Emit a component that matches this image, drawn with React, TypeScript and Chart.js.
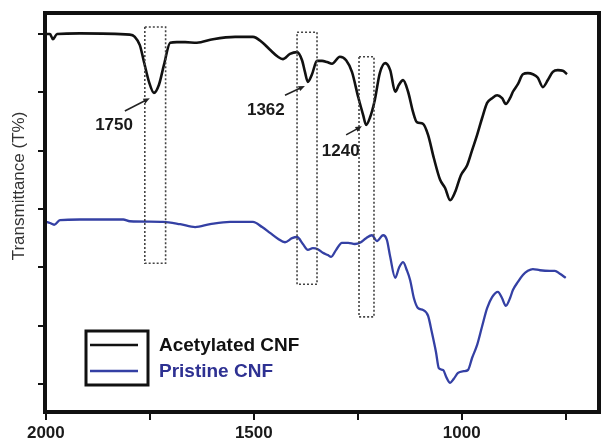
import React, { useEffect, useRef } from "react";
import Chart from "chart.js/auto";

// Wavenumber (cm-1) and transmittance (arbitrary units)
const acetylWn = [2000, 1990, 1983, 1973, 1918, 1798, 1786, 1774, 1764, 1752, 1740, 1728, 1716, 1701, 1685, 1665, 1637, 1598, 1545, 1502, 1480, 1461, 1442, 1430, 1413, 1396, 1384, 1377, 1370, 1360, 1348, 1336, 1324, 1312, 1293, 1278, 1264, 1249, 1237, 1230, 1221, 1209, 1197, 1184, 1172, 1160, 1151, 1141, 1129, 1117, 1108, 1093, 1081, 1067, 1052, 1040, 1028, 1016, 1002, 987, 975, 963, 951, 939, 927, 915, 903, 894, 884, 877, 865, 853, 841, 829, 817, 805, 793, 781, 769, 757, 747];
const acetylT = [6.0, 6.0, 5.91, 6.0, 6.01, 5.99, 5.95, 5.81, 5.52, 5.18, 4.99, 5.13, 5.47, 5.85, 5.86, 5.86, 5.85, 5.91, 5.95, 5.95, 5.86, 5.73, 5.61, 5.57, 5.66, 5.69, 5.55, 5.35, 5.18, 5.31, 5.54, 5.54, 5.52, 5.49, 5.61, 5.55, 5.35, 4.92, 4.61, 4.44, 4.56, 4.87, 5.33, 5.5, 5.38, 5.01, 5.13, 5.21, 5.01, 4.66, 4.49, 4.46, 4.27, 3.87, 3.5, 3.36, 3.15, 3.29, 3.58, 3.75, 4.01, 4.27, 4.56, 4.82, 4.9, 4.95, 4.9, 4.8, 4.9, 5.01, 5.14, 5.31, 5.33, 5.31, 5.25, 5.09, 5.21, 5.35, 5.38, 5.37, 5.31];

const pristineWn = [2000, 1990, 1980, 1966, 1918, 1814, 1798, 1718, 1677, 1641, 1605, 1557, 1502, 1480, 1461, 1442, 1425, 1408, 1396, 1382, 1370, 1358, 1346, 1334, 1322, 1314, 1302, 1288, 1273, 1257, 1245, 1230, 1216, 1204, 1189, 1180, 1172, 1160, 1151, 1141, 1132, 1124, 1115, 1105, 1093, 1081, 1072, 1062, 1055, 1045, 1036, 1028, 1019, 1009, 995, 985, 975, 963, 951, 939, 927, 913, 903, 894, 884, 877, 865, 853, 841, 829, 812, 788, 776, 764, 750];
const pristineT = [2.78, 2.76, 2.73, 2.81, 2.82, 2.82, 2.79, 2.78, 2.74, 2.69, 2.74, 2.78, 2.78, 2.69, 2.59, 2.49, 2.43, 2.5, 2.52, 2.4, 2.3, 2.33, 2.31, 2.25, 2.21, 2.18, 2.3, 2.42, 2.42, 2.4, 2.42, 2.5, 2.55, 2.45, 2.55, 2.47, 2.18, 1.82, 1.99, 2.09, 1.95, 1.78, 1.47, 1.3, 1.27, 1.17, 0.89, 0.55, 0.27, 0.24, 0.1, 0.02, 0.09, 0.19, 0.22, 0.24, 0.45, 0.67, 0.99, 1.3, 1.49, 1.58, 1.47, 1.34, 1.47, 1.61, 1.75, 1.87, 1.94, 1.97, 1.95, 1.94, 1.94, 1.89, 1.82];

const seriesLabels = ["Acetylated CNF", "Pristine CNF"];
const seriesColors = ["#111111", "#3440a4"];

const xTickValues = [2000, 1750, 1500, 1250, 1000, 750];
const xTickLabels = [2000, 1500, 1000];
const yTickValues = [0, 1, 2, 3, 4, 5, 6];
const yTitle = "Transmittance (T%)";

// Highlighted bands: [xFrom, xTo, yTop, yBottom]
const bandBoxes = [
  [1762, 1712, 6.12, 2.07],
  [1396, 1348, 6.03, 1.71],
  [1247, 1211, 5.61, 1.15],
];
// Peak labels: text, label position, arrow start, arrow end
const peakLabels = ["1750", "1362", "1240"];
const peakLabelPos = [[1836, 4.44], [1471, 4.7], [1291, 3.99]];
const peakArrowFrom = [[1810, 4.68], [1425, 4.95], [1278, 4.27]];
const peakArrowTo = [[1750, 4.9], [1377, 5.11], [1240, 4.42]];

const FONT = "'Liberation Sans', Arial, sans-serif";

const overlay = {
  id: "overlay",
  afterDatasetsDraw(chart: any) {
    const { ctx, chartArea, scales } = chart;
    const xs = scales.x;
    const ys = scales.y;
    ctx.save();

    // dotted band boxes
    ctx.setLineDash([2, 2]);
    ctx.lineWidth = 1.6;
    ctx.strokeStyle = "#444";
    bandBoxes.forEach(([x0, x1, yt, yb]) => {
      const px0 = xs.getPixelForValue(x0);
      const px1 = xs.getPixelForValue(x1);
      const pyt = ys.getPixelForValue(yt);
      const pyb = ys.getPixelForValue(yb);
      ctx.strokeRect(px0, pyt, px1 - px0, pyb - pyt);
    });
    ctx.setLineDash([]);

    // arrows
    ctx.strokeStyle = "#222";
    ctx.fillStyle = "#222";
    ctx.lineWidth = 1.5;
    peakArrowFrom.forEach((from, i) => {
      const to = peakArrowTo[i];
      const ax = xs.getPixelForValue(from[0]);
      const ay = ys.getPixelForValue(from[1]);
      const bx = xs.getPixelForValue(to[0]);
      const by = ys.getPixelForValue(to[1]);
      const ang = Math.atan2(by - ay, bx - ax);
      const hl = 7;
      ctx.beginPath();
      ctx.moveTo(ax, ay);
      ctx.lineTo(bx - Math.cos(ang) * hl * 0.8, by - Math.sin(ang) * hl * 0.8);
      ctx.stroke();
      ctx.beginPath();
      ctx.moveTo(bx, by);
      ctx.lineTo(bx - hl * Math.cos(ang - 0.4), by - hl * Math.sin(ang - 0.4));
      ctx.lineTo(bx - hl * Math.cos(ang + 0.4), by - hl * Math.sin(ang + 0.4));
      ctx.closePath();
      ctx.fill();
    });

    // peak labels
    ctx.font = `bold 17px ${FONT}`;
    ctx.textAlign = "center";
    ctx.textBaseline = "middle";
    ctx.fillStyle = "#1a1a1a";
    peakLabels.forEach((t, i) => {
      ctx.fillText(t, xs.getPixelForValue(peakLabelPos[i][0]), ys.getPixelForValue(peakLabelPos[i][1]));
    });

    // legend
    const lx = 86, ly = 331, lw = 62, lh = 54;
    ctx.lineWidth = 3;
    ctx.strokeStyle = "#111";
    ctx.strokeRect(lx, ly, lw, lh);
    ctx.font = `bold 19px ${FONT}`;
    ctx.textAlign = "left";
    seriesLabels.forEach((lab, i) => {
      const yy = 345 + i * 26;
      ctx.strokeStyle = seriesColors[i];
      ctx.lineWidth = 2.5;
      ctx.beginPath();
      ctx.moveTo(90, yy);
      ctx.lineTo(138, yy);
      ctx.stroke();
      ctx.fillStyle = i === 0 ? "#111" : "#2e3192";
      ctx.fillText(lab, 159, yy + 1);
    });

    // y title
    ctx.save();
    ctx.translate(19, 186);
    ctx.rotate(-Math.PI / 2);
    ctx.font = `17px ${FONT}`;
    ctx.fillStyle = "#333";
    ctx.textAlign = "center";
    ctx.fillText(yTitle, 0, 0);
    ctx.restore();

    // frame
    ctx.lineWidth = 4;
    ctx.strokeStyle = "#111";
    ctx.strokeRect(chartArea.left, chartArea.top, chartArea.right - chartArea.left, chartArea.bottom - chartArea.top);
    ctx.restore();
  },
};

export default function App() {
  const ref = useRef<HTMLCanvasElement | null>(null);
  useEffect(() => {
    if (!ref.current) return;
    const chart = new Chart(ref.current, {
      type: "line",
      data: {
        datasets: [
          {
            label: seriesLabels[0],
            data: acetylWn.map((x, i) => ({ x, y: acetylT[i] })),
            borderColor: seriesColors[0],
            borderWidth: 2.6,
            pointRadius: 0,
            cubicInterpolationMode: "monotone",
            fill: false,
          },
          {
            label: seriesLabels[1],
            data: pristineWn.map((x, i) => ({ x, y: pristineT[i] })),
            borderColor: seriesColors[1],
            borderWidth: 2.3,
            pointRadius: 0,
            cubicInterpolationMode: "monotone",
            fill: false,
          },
        ],
      },
      options: {
        responsive: false,
        animation: false,
        devicePixelRatio: 1,
        layout: { padding: { top: 13, right: 4, left: 0, bottom: 0 } },
        plugins: { legend: { display: false }, tooltip: { enabled: false } },
        scales: {
          x: {
            type: "linear",
            reverse: true,
            min: 670,
            max: 2002,
            afterBuildTicks: (s: any) => {
              s.ticks = xTickValues.map((v) => ({ value: v }));
            },
            afterFit: (s: any) => {
              s.height = 31;
            },
            grid: { drawOnChartArea: false, tickLength: 8, tickColor: "#111", lineWidth: 2 },
            border: { display: false },
            ticks: {
              autoSkip: false,
              maxRotation: 0,
              padding: 3,
              color: "#1a1a1a",
              font: { size: 17, family: FONT, weight: "bold" },
              callback: (v: any) => (xTickLabels.includes(Number(v)) ? String(v) : ""),
            },
          },
          y: {
            type: "linear",
            min: -0.48,
            max: 6.36,
            afterBuildTicks: (s: any) => {
              s.ticks = yTickValues.map((v) => ({ value: v }));
            },
            afterFit: (s: any) => {
              s.width = 45;
            },
            grid: { drawOnChartArea: false, tickLength: 7, tickColor: "#111", lineWidth: 2 },
            border: { display: false },
            ticks: { display: false },
          },
        },
      },
      plugins: [overlay],
    });
    return () => chart.destroy();
  }, []);
  return (
    <div style={{ position: "fixed", left: 0, top: 0, width: 603, height: 443, background: "#fff" }}>
      <canvas ref={ref} width={603} height={443} style={{ display: "block" }} />
    </div>
  );
}
